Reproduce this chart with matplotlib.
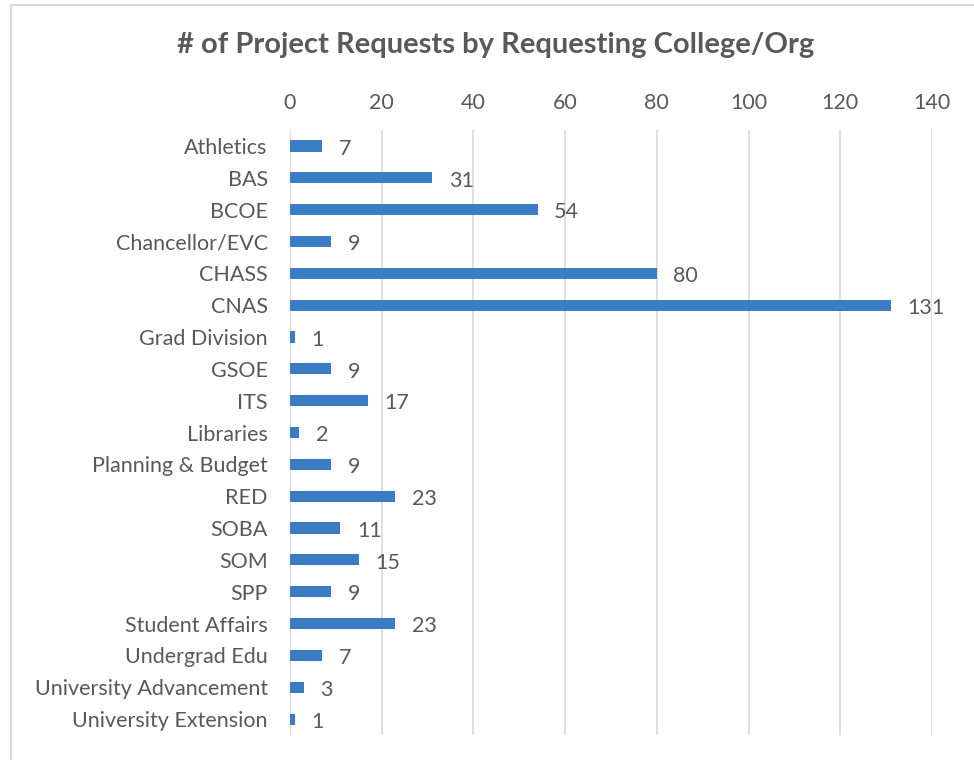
import matplotlib.pyplot as plt
from matplotlib.patches import Rectangle

orgs = ["Athletics", "BAS", "BCOE", "Chancellor/EVC", "CHASS", "CNAS",
        "Grad Division", "GSOE", "ITS", "Libraries", "Planning & Budget",
        "RED", "SOBA", "SOM", "SPP", "Student Affairs", "Undergrad Edu",
        "University Advancement", "University Extension"]
requests = [7, 31, 54, 9, 80, 131, 1, 9, 17, 2, 9, 23, 11, 15, 9, 23, 7, 3, 1]
ticks = [0, 20, 40, 60, 80, 100, 120, 140]

plt.rcParams['font.family'] = ['Lato', 'DejaVu Sans']
txt = "#595959"
grid = "#D9D9D9"

fig = plt.figure(figsize=(9.74, 7.6), dpi=100)
ax = fig.add_axes([0.2977, 0.0329, 0.6591, 0.796])

# chart frame
fig.patches.append(Rectangle((11 / 974, -0.1), 1.2, 1 - 5 / 760 + 0.1,
                             transform=fig.transFigure, fill=False,
                             edgecolor=grid, linewidth=1.5))

ypos = list(range(len(orgs)))
ax.barh(ypos, requests, height=0.35, color="#3A7DC4", zorder=3)
for y, v in zip(ypos, requests):
    ax.annotate(str(v), (v, y), xytext=(12, -2), textcoords="offset points",
                ha="left", va="center", fontsize=15.5, color=txt)

ax.set_xlim(0, 140)
ax.set_ylim(len(orgs) - 0.5, -0.5)
ax.set_xticks(ticks)
ax.set_yticks(ypos)
ax.set_yticklabels(orgs)
ax.xaxis.tick_top()
ax.tick_params(axis="x", length=0, pad=12, labelsize=15.5, labelcolor=txt)
ax.tick_params(axis="y", length=0, pad=16, labelsize=15.5, labelcolor=txt)
ax.grid(axis="x", color=grid, linewidth=1.2, zorder=0)
for s in ax.spines.values():
    s.set_visible(False)

fig.text(0.509, 0.941, "# of Project Requests by Requesting College/Org",
         ha="center", va="center", fontsize=21, fontweight="bold", color=txt)

fig.savefig("out.png", dpi=100)
